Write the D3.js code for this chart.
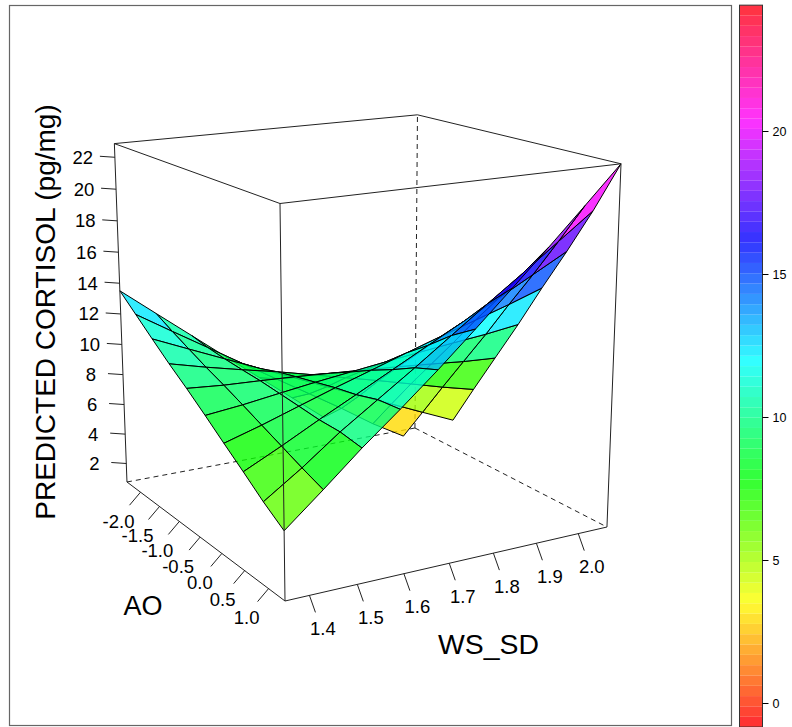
<!DOCTYPE html>
<html>
<head>
<meta charset="utf-8">
<script src="https://cdn.jsdelivr.net/npm/d3@7"></script>
<style>
  body { margin: 0; background: #fff; }
  text { font-family: "Liberation Sans", Arial, sans-serif; fill: #000; }
</style>
</head>
<body>
<div id="plot"></div>
<script>
// Grid values
const wsGrid = [1.35, 1.43, 1.51, 1.59, 1.67, 1.75, 1.83, 1.91, 1.99, 2.07];
const aoGrid = [-2.37, -1.96, -1.55, -1.14, -0.73, -0.31, 0.10, 0.51, 0.92, 1.33];

// one row per AO value (same order as aoGrid), one column per WS value
const cortisol = [
    [13.51, 11.70, 9.90, 8.10, 6.30, 4.51, 2.72, 0.68, -0.99, -2.63],
    [12.52, 11.09, 9.68, 8.26, 6.85, 5.45, 4.04, 2.55, 1.25, -0.15],
    [11.53, 10.53, 9.54, 8.55, 7.57, 6.58, 5.59, 4.62, 3.64, 2.68],
    [10.56, 9.98, 9.45, 8.95, 8.39, 7.82, 7.25, 6.65, 6.05, 5.51],
    [9.66, 9.48, 9.38, 9.26, 9.11, 8.96, 8.80, 8.61, 8.41, 8.28],
    [8.68, 8.93, 9.25, 9.56, 9.83, 10.10, 10.36, 10.60, 10.82, 11.11],
    [7.69, 8.37, 9.12, 9.86, 10.56, 11.27, 11.96, 12.62, 13.28, 14.00],
    [6.72, 7.82, 8.98, 10.09, 11.22, 12.34, 13.45, 14.53, 15.66, 16.79],
    [5.72, 7.26, 8.95, 10.45, 11.95, 13.50, 15.05, 16.57, 18.14, 19.70],
    [4.84, 6.75, 8.72, 10.55, 12.45, 14.45, 16.49, 18.57, 20.69, 22.85]
];

const wsTicks = [1.4, 1.5, 1.6, 1.7, 1.8, 1.9, 2.0];
const aoTicks = [-2.0, -1.5, -1.0, -0.5, 0.0, 0.5, 1.0];
const zTicks = [2, 4, 6, 8, 10, 12, 14, 16, 18, 20, 22];
const barTicks = [0, 5, 10, 15, 20];

const width = 792;
const height = 727;

const svg = d3.select("#plot")
    .append("svg")
    .attr("width", width)
    .attr("height", height);

// Data to unit cube
const uScale = d3.scaleLinear().domain([1.35, 2.07]).range([0, 1]);
const vScale = d3.scaleLinear().domain([1.33, -2.37]).range([0, 1]);
const wScale = d3.scaleLinear().domain([0.73, 22.85]).range([0, 1]);

// Perspective camera of the box
function project(u, v, w) {
    const d = 1 + 0.1009 * u + 0.1853 * v - 0.06 * w;
    return [
        (285 + 383.2 * u - 134.5 * v - 21.8 * w) / d,
        (601 - 20.8 * u - 29.7 * v - 409.7 * w) / d
    ];
}
function depth(u, v, w) {
    return 0.1009 * u + 0.1853 * v - 0.06 * w;
}

const line = d3.line();
const closed = d3.line().curve(d3.curveLinearClosed);

function edge(a, b, dashed, target) {
    target.append("path")
        .attr("d", line([project(...a), project(...b)]))
        .attr("fill", "none")
        .attr("stroke", "#222")
        .attr("stroke-width", 1)
        .attr("stroke-dasharray", dashed ? "5,4" : null);
}

// Colour levels, rainbow with alpha
const nLevels = 70;
const levels = d3.range(nLevels).map((i) => d3.hsl((i / nLevels) * 360, 1, 0.5).formatHex());
const colorScale = d3.scaleQuantize().domain([-0.84, 24.4]).range(levels);

// Hidden box edges go behind the surface
edge([0, 1, 0], [1, 1, 0], true, svg);
edge([1, 1, 0], [1, 0, 0], true, svg);
edge([1, 1, 0], [1, 1, 1], true, svg);

// Surface cells, the ones dipping under the floor are dropped
const cells = [];
d3.range(aoGrid.length - 1).forEach((r) => {
    d3.range(wsGrid.length - 1).forEach((c) => {
        const corners = [[r, c], [r, c + 1], [r + 1, c + 1], [r + 1, c]]
            .map(([a, b]) => ({ ws: wsGrid[b], ao: aoGrid[a], z: cortisol[a][b] }));
        if (d3.min(corners, (d) => d.z) < wScale.domain()[0]) return;
        cells.push({
            points: corners.map((d) => project(uScale(d.ws), vScale(d.ao), wScale(d.z))),
            mean: d3.mean(corners, (d) => d.z),
            depth: d3.mean(corners, (d) => depth(uScale(d.ws), vScale(d.ao), wScale(d.z)))
        });
    });
});
cells.sort((a, b) => b.depth - a.depth);

svg.append("g")
    .selectAll("path")
    .data(cells)
    .join("path")
    .attr("d", (d) => closed(d.points))
    .attr("fill", (d) => colorScale(d.mean))
    .attr("fill-opacity", 0.8)
    .attr("stroke", "#000")
    .attr("stroke-width", 1)
    .attr("stroke-linejoin", "round");

// Visible box edges
[
    [[0, 0, 0], [1, 0, 0]],
    [[0, 0, 0], [0, 1, 0]],
    [[0, 0, 0], [0, 0, 1]],
    [[1, 0, 0], [1, 0, 1]],
    [[0, 1, 0], [0, 1, 1]],
    [[0, 0, 1], [1, 0, 1]],
    [[0, 0, 1], [0, 1, 1]],
    [[1, 0, 1], [1, 1, 1]],
    [[0, 1, 1], [1, 1, 1]]
].forEach(([a, b]) => edge(a, b, false, svg));

// Axis ticks and labels
function axis(ticks, toPoint, dTick, dLabel, format) {
    const g = svg.append("g");
    ticks.forEach((t) => {
        const p = toPoint(t);
        g.append("path")
            .attr("d", line([p, [p[0] + dTick[0], p[1] + dTick[1]]]))
            .attr("stroke", "#222")
            .attr("fill", "none");
        g.append("text")
            .attr("x", p[0] + dLabel[0])
            .attr("y", p[1] + dLabel[1])
            .attr("text-anchor", "middle")
            .attr("dominant-baseline", "central")
            .style("font-size", "18.5px")
            .text(format(t));
    });
}

// plain hyphen for the minus sign, as in the picture
const oneDecimal = (t) => t.toFixed(1);

axis(wsTicks, (t) => project(uScale(t), 0, 0), [6, 17], [13.5, 33], oneDecimal);
axis(aoTicks, (t) => project(0, vScale(t), 0), [-11, 13], [-22, 29], oneDecimal);
axis(zTicks, (t) => project(0, 1, wScale(t)), [-15, -1], [-32, 0], d3.format("d"));

// Axis titles
svg.append("text")
    .attr("transform", "translate(55,312) rotate(-90)")
    .attr("text-anchor", "middle")
    .style("font-size", "28px")
    .text("PREDICTED CORTISOL (pg/mg)");

svg.append("text")
    .attr("x", 143)
    .attr("y", 615)
    .attr("text-anchor", "middle")
    .style("font-size", "27px")
    .text("AO");

svg.append("text")
    .attr("x", 488.5)
    .attr("y", 654)
    .attr("text-anchor", "middle")
    .style("font-size", "28.4px")
    .text("WS_SD");

// Panel border
svg.append("rect")
    .attr("x", 9.5)
    .attr("y", 5.5)
    .attr("width", 722)
    .attr("height", 720)
    .attr("fill", "none")
    .attr("stroke", "#666")
    .attr("stroke-width", 1.2);

// Colour bar
const barScale = d3.scaleLinear().domain([0, 20]).range([703, 131]);
const barX = 739.5;
const barW = 23;

svg.append("g")
    .selectAll("rect")
    .data(levels)
    .join("rect")
    .attr("x", barX)
    .attr("width", barW)
    .attr("y", (d) => barScale(colorScale.invertExtent(d)[1]))
    .attr("height", (d) => barScale(colorScale.invertExtent(d)[0]) - barScale(colorScale.invertExtent(d)[1]))
    .attr("fill", (d) => d)
    .attr("fill-opacity", 0.8);

svg.append("rect")
    .attr("x", barX)
    .attr("y", barScale(24.4))
    .attr("width", barW)
    .attr("height", barScale(-0.84) - barScale(24.4))
    .attr("fill", "none")
    .attr("stroke", "#333");

const barAxis = d3.axisRight(barScale).tickValues(barTicks).tickSize(6).tickSizeOuter(0);
const barG = svg.append("g")
    .attr("transform", `translate(${barX + barW},0)`)
    .call(barAxis);
barG.select(".domain").remove();
barG.selectAll("text")
    .attr("x", 10)
    .style("font-size", "12.5px");
</script>
</body>
</html>
